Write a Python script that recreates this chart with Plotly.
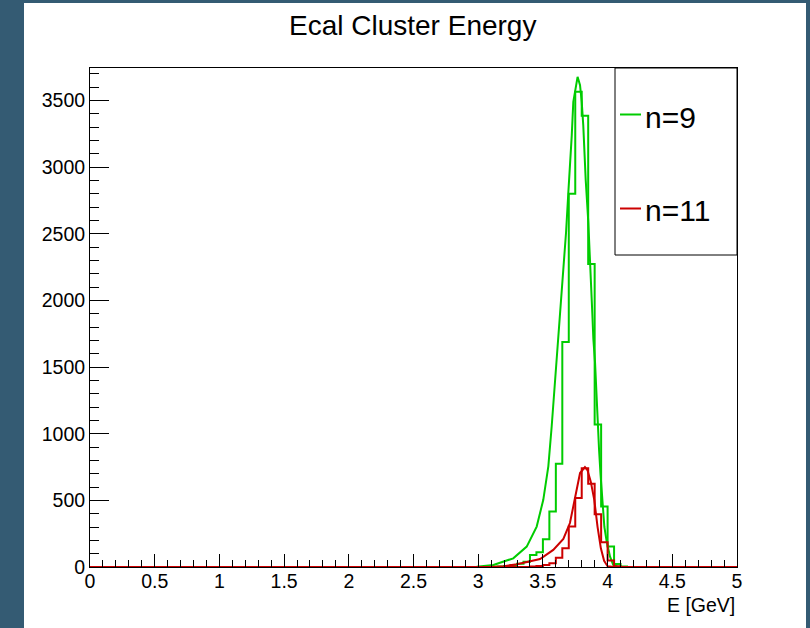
import numpy as np
import plotly.graph_objects as go

# ---------------- data ----------------
E_MIN, E_MAX, BIN_W = 0.0, 5.0, 0.05

series_names = ["n=9", "n=11"]

# coarse histograms: counts per 0.05 GeV bin, starting at the given lower edge
green_hist_start = 3.10
green_hist = [2, 4, 8, 15, 25, 40, 90, 110, 208, 416, 775, 1688, 2799, 3565,
              3384, 2272, 1068, 454, 153, 22, 3]
red_hist_start = 3.40
red_hist = [3, 8, 15, 28, 70, 140, 303, 517, 740, 625, 395, 185, 48, 6]

# fitted curves (sampled points)
green_fit_E = [2.80, 2.988, 3.117, 3.271, 3.375, 3.452, 3.503, 3.542, 3.568, 3.594,
               3.614, 3.632, 3.658, 3.679, 3.696, 3.710, 3.723, 3.735, 3.748, 3.768,
               3.787, 3.800, 3.812, 3.820, 3.831, 3.851, 3.864, 3.872, 3.882, 3.890,
               3.903, 3.915, 3.923, 3.934, 3.945, 3.960, 3.975, 3.993, 4.019, 4.044,
               4.080, 4.200]
green_fit_v = [0, 2, 15, 65, 153, 303, 504, 755, 1056, 1384,
               1683, 1900, 2210, 2511, 2800, 2987, 3238, 3489, 3576, 3677,
               3614, 3489, 3313, 3113, 2900, 2586, 2335, 2109, 1900, 1708,
               1533, 1281, 1081, 880, 700, 480, 300, 190, 78, 15,
               0, 0]
red_fit_E = [3.10, 3.20, 3.30, 3.40, 3.478, 3.58, 3.658, 3.709, 3.748, 3.787,
             3.825, 3.845, 3.870, 3.897, 3.922, 3.948, 3.973, 4.00, 4.05]
red_fit_v = [0, 6, 20, 40, 60, 128, 210, 330, 529, 705,
             750, 725, 640, 504, 303, 140, 47, 6, 0]

Y_MAX = 3743
x_ticks_major, x_ticks_minor = 0.5, 0.1
y_ticks_major, y_ticks_minor = 500, 100

GREEN = "#00cc00"
RED = "#cc0000"
CANVAS = "#345b73"

# ---------------- build full histograms ----------------
edges = np.round(np.arange(E_MIN, E_MAX + BIN_W / 2, BIN_W), 4)
n_bins = len(edges) - 1


def full_hist(start, vals):
    c = np.zeros(n_bins)
    i0 = int(round((start - E_MIN) / BIN_W))
    c[i0:i0 + len(vals)] = vals
    return list(c) + [c[-1]]


green_full = full_hist(green_hist_start, green_hist)
red_full = full_hist(red_hist_start, red_hist)

W, H = 810, 628
ML, MR, MT, MB = 90, 73, 68, 61
PW, PH = W - ML - MR, H - MT - MB


def px_x(p):
    return (p - ML) / PW


def px_y(p):
    return (H - MB - p) / PH


fig = go.Figure()
fig.add_trace(go.Scatter(x=edges, y=green_full, mode="lines", line_shape="hv",
                         line=dict(color=GREEN, width=2), showlegend=False))
fig.add_trace(go.Scatter(x=green_fit_E, y=green_fit_v, mode="lines",
                         line=dict(color=GREEN, width=2), showlegend=False))
fig.add_trace(go.Scatter(x=edges, y=red_full, mode="lines", line_shape="hv",
                         line=dict(color=RED, width=2), showlegend=False))
fig.add_trace(go.Scatter(x=red_fit_E, y=red_fit_v, mode="lines",
                         line=dict(color=RED, width=2), showlegend=False))

FONT = "Liberation Sans, Arial, Helvetica, sans-serif"

shapes = [
    # white canvas panel
    dict(type="rect", xref="paper", yref="paper", layer="below",
         x0=px_x(24), x1=px_x(806), y0=px_y(H + 5), y1=px_y(3),
         fillcolor="white", line=dict(width=0)),
    # legend box
    dict(type="rect", xref="paper", yref="paper",
         x0=px_x(615), x1=px_x(737), y0=px_y(255), y1=px_y(68),
         fillcolor="white", line=dict(color="black", width=1)),
    dict(type="line", xref="paper", yref="paper",
         x0=px_x(620), x1=px_x(641), y0=px_y(114.5), y1=px_y(114.5),
         line=dict(color=GREEN, width=2)),
    dict(type="line", xref="paper", yref="paper",
         x0=px_x(620), x1=px_x(641), y0=px_y(208.5), y1=px_y(208.5),
         line=dict(color=RED, width=2)),
]

annotations = [
    dict(text="Ecal Cluster Energy", xref="paper", yref="paper",
         x=px_x(412.5), y=px_y(26), xanchor="center", yanchor="middle",
         showarrow=False, font=dict(size=28, color="black", family=FONT)),
    dict(text="E [GeV]", xref="paper", yref="paper",
         x=px_x(737), y=px_y(605), xanchor="right", yanchor="middle",
         showarrow=False, font=dict(size=19.5, color="black", family=FONT)),
    dict(text=series_names[0], xref="paper", yref="paper",
         x=px_x(643), y=px_y(117), xanchor="left", yanchor="middle",
         showarrow=False, font=dict(size=30, color="black", family=FONT)),
    dict(text=series_names[1], xref="paper", yref="paper",
         x=px_x(643), y=px_y(211), xanchor="left", yanchor="middle",
         showarrow=False, font=dict(size=30, color="black", family=FONT)),
]

fig.update_layout(
    width=W, height=H,
    margin=dict(l=ML, r=MR, t=MT, b=MB),
    paper_bgcolor=CANVAS, plot_bgcolor="white",
    shapes=shapes, annotations=annotations,
    font=dict(family=FONT, color="black"),
)
fig.update_xaxes(range=[E_MIN, E_MAX], dtick=x_ticks_major, tick0=0,
                 showgrid=False, zeroline=False,
                 showline=True, linecolor="black", linewidth=1, mirror=True,
                 ticks="inside", ticklen=13, tickcolor="black", tickwidth=1,
                 minor=dict(ticks="inside", ticklen=7, dtick=x_ticks_minor,
                            tickcolor="black", showgrid=False),
                 tickfont=dict(size=19.5, family=FONT, color="black"),
                 ticklabelstandoff=-3)
fig.update_yaxes(range=[0, Y_MAX], dtick=y_ticks_major, tick0=0,
                 showgrid=False, zeroline=False,
                 showline=True, linecolor="black", linewidth=1, mirror=True,
                 ticks="inside", ticklen=19, tickcolor="black", tickwidth=1,
                 minor=dict(ticks="inside", ticklen=9, dtick=y_ticks_minor,
                            tickcolor="black", showgrid=False),
                 tickfont=dict(size=19.5, family=FONT, color="black"),
                 ticklabelstandoff=0)

fig.write_html("out.html")
